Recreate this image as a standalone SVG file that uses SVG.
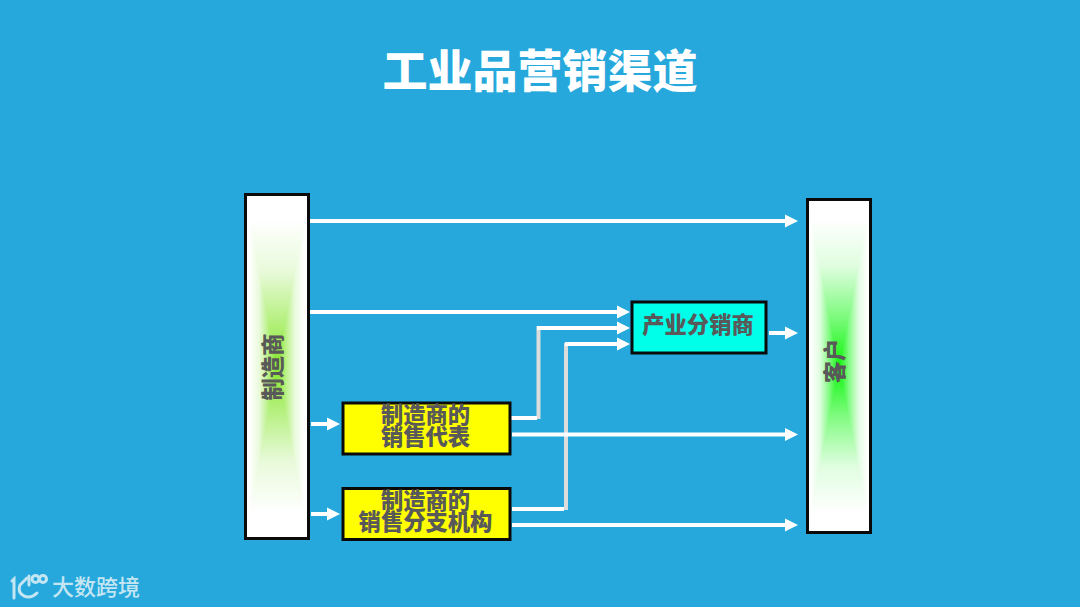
<svg xmlns="http://www.w3.org/2000/svg" width="1080" height="607" viewBox="0 0 1080 607">
<style>
.cn{font-family:"Noto Sans CJK SC","Liberation Sans",sans-serif;font-weight:900;text-anchor:middle}
.lab{font-size:22.300px;fill:#595959}
.box{stroke:#0a0a0a;stroke-width:3;fill:none}
.w{stroke:#fff;stroke-width:4;fill:none}
.g{stroke:#dcdcdc;stroke-width:4;fill:none}
.h{fill:#fff}
.tri{shape-rendering:crispEdges}
.logo{stroke:#c4e6f3;stroke-width:3;fill:none;stroke-linecap:round}
</style>
<defs>
<linearGradient id="mL" gradientUnits="userSpaceOnUse" x1="277" y1="0" x2="245" y2="0" href="#m"/>
<linearGradient id="mR" gradientUnits="userSpaceOnUse" x1="277" y1="0" x2="309" y2="0" href="#m"/>
<linearGradient id="mT" gradientUnits="userSpaceOnUse" x1="0" y1="366" x2="0" y2="194" href="#m"/>
<linearGradient id="mB" gradientUnits="userSpaceOnUse" x1="0" y1="366" x2="0" y2="539" href="#m"/>
<linearGradient id="m"><stop offset="0" stop-color="#84e82a"/><stop offset=".25" stop-color="#b4f07c"/><stop offset=".55" stop-color="#e8fada"/><stop offset=".85" stop-color="#fff"/></linearGradient>
<linearGradient id="cL" gradientUnits="userSpaceOnUse" x1="839" y1="0" x2="807" y2="0" href="#c"/>
<linearGradient id="cR" gradientUnits="userSpaceOnUse" x1="839" y1="0" x2="871" y2="0" href="#c"/>
<linearGradient id="cT" gradientUnits="userSpaceOnUse" x1="0" y1="366" x2="0" y2="199" href="#c"/>
<linearGradient id="cB" gradientUnits="userSpaceOnUse" x1="0" y1="366" x2="0" y2="533" href="#c"/>
<linearGradient id="c"><stop offset="0" stop-color="#0cf50c"/><stop offset=".3" stop-color="#80fb80"/><stop offset=".6" stop-color="#e0fde0"/><stop offset=".88" stop-color="#fff"/></linearGradient>
</defs>
<rect width="1080" height="607" fill="#26a8dc"/>
<text id="title" class="cn" x="540" y="88" font-size="45" fill="#fff">工业品营销渠道</text>

<g id="connectors">
<path class="w" d="M310 221H786"/><polygon class="h" points="785,214.500 798,221 785,227.500"/>
<path class="w" d="M310 312H618"/><polygon class="h" points="617,305.500 630,312 617,318.500"/>
<path class="g" d="M538.500 419V326"/><path class="w" d="M511 418H537M537 328H618"/><polygon class="h" points="617,321.500 630,328 617,334.500"/>
<path class="g" d="M566 510V343"/><path class="w" d="M512 509H564M565 344H618"/><polygon class="h" points="617,337.500 630,344 617,350.500"/>
<path class="w" d="M769 333H786"/><polygon class="h" points="785,326.500 798,333 785,339.500"/>
<path class="w" d="M512 434.500H786"/><polygon class="h" points="785,428 798,434.500 785,441"/>
<path class="w" d="M512 525H786"/><polygon class="h" points="785,518.500 798,525 785,531.500"/>
<path class="w" d="M311 424H328"/><polygon class="h" points="327,417.500 340,424 327,430.500"/>
<path class="w" d="M311 514H328"/><polygon class="h" points="327,507.500 340,514 327,520.500"/>
</g>

<g id="node-manufacturer">
<polygon class="tri" points="245,194 277,366 245,539" fill="url(#mL)"/>
<polygon class="tri" points="309,194 277,366 309,539" fill="url(#mR)"/>
<polygon class="tri" points="245,194 309,194 277,366" fill="url(#mT)"/>
<polygon class="tri" points="245,539 309,539 277,366" fill="url(#mB)"/>
<rect class="box" x="245.500" y="194.500" width="63" height="344"/>
<text class="cn lab" transform="translate(281 367) rotate(-90)" x="0" y="0">制造商</text>
</g>

<g id="node-customer">
<polygon class="tri" points="807,199 839,366 807,533" fill="url(#cL)"/>
<polygon class="tri" points="871,199 839,366 871,533" fill="url(#cR)"/>
<polygon class="tri" points="807,199 871,199 839,366" fill="url(#cT)"/>
<polygon class="tri" points="807,533 871,533 839,366" fill="url(#cB)"/>
<rect class="box" x="807.500" y="199.500" width="63" height="333"/>
<text class="cn lab" transform="translate(843 361) rotate(-90)" x="0" y="0">客户</text>
</g>

<g id="node-rep">
<rect x="343" y="403" width="167" height="51" fill="#ffff00"/>
<rect class="box" x="343" y="403" width="167" height="51"/>
<text class="cn lab" x="425.500" y="423">制造商的</text>
<text class="cn lab" x="425.500" y="445">销售代表</text>
</g>

<g id="node-branch">
<rect x="343" y="488.500" width="167" height="51" fill="#ffff00"/>
<rect class="box" x="343" y="488.500" width="167" height="51"/>
<text class="cn lab" x="425.500" y="508.500">制造商的</text>
<text class="cn lab" x="425.500" y="530">销售分支机构</text>
</g>

<g id="node-distributor">
<rect x="632" y="302" width="134" height="51" fill="#00ffe8"/>
<rect class="box" x="632" y="302" width="134" height="51"/>
<text class="cn lab" x="698" y="333">产业分销商</text>
</g>

<g id="logo">
<path class="logo" d="M12 581L14 579V598"/>
<path class="logo" d="M27 578L20 585Q17 592 24 596Q31 599 37 593"/>
<path class="logo" d="M29 576V585" stroke-width="2"/>
<circle class="logo" cx="35.500" cy="579" r="3.500" stroke-width="1.800"/>
<circle class="logo" cx="43" cy="579" r="3.500" stroke-width="1.800"/>
<text x="96" y="595" font-size="22" fill="#c4e6f3" text-anchor="middle" style="font-family:'Noto Sans CJK SC','Liberation Sans',sans-serif;font-weight:500">大数跨境</text>
</g>
</svg>
